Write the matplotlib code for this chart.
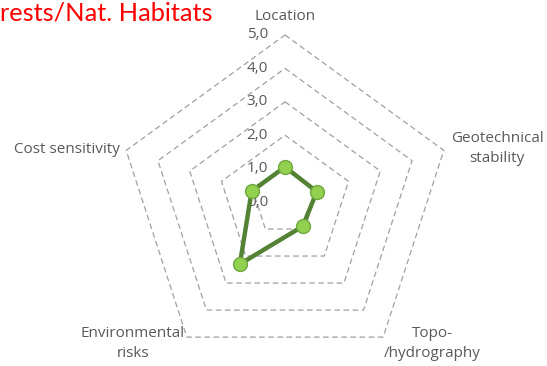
import numpy as np
import matplotlib
matplotlib.use("Agg")
import matplotlib.pyplot as plt

categories = ["Location", "Geotechnical\nstability", "Topo-\n/hydrography",
              "Environmental\nrisks", "Cost sensitivity"]
values = [1.05, 1.0, 0.9, 2.3, 1.05]
ring_levels = [1, 2, 3, 4, 5]
tick_values = [0, 1, 2, 3, 4, 5]
tick_labels = ["0,0", "1,0", "2,0", "3,0", "4,0", "5,0"]
title = "rests/Nat. Habitats"

plt.rcParams['font.family'] = ['Open Sans', 'DejaVu Sans']

W, H = 547, 366
fig = plt.figure(figsize=(W / 100, H / 100), dpi=100)
cx, cy, R = 285, 202, 167
ax = fig.add_axes([(cx - R) / W, (H - cy - R) / H, 2 * R / W, 2 * R / H],
                  projection='polar')
ax.set_theta_zero_location('N')
ax.set_theta_direction(-1)
ax.set_ylim(0, 5)
ax.grid(False)
ax.spines['polar'].set_visible(False)
ax.set_xticks([])
ax.set_yticks([])
ax.patch.set_alpha(0)

n = len(categories)
theta = np.linspace(0, 2 * np.pi, n, endpoint=False)
theta_c = np.append(theta, theta[0])

for r in ring_levels:
    ax.plot(theta_c, [r] * (n + 1), color='#A0A0A0', lw=0.9,
            linestyle=(0, (4.5, 2.8)), zorder=1, clip_on=False)

vals_c = values + values[:1]
ax.plot(theta_c, vals_c, color='#548235', lw=3.2, zorder=3,
        solid_joinstyle='round', clip_on=False)
ax.plot(theta, values, linestyle='none', marker='o', markersize=10,
        markerfacecolor='#92D050', markeredgecolor='#6FA83E',
        markeredgewidth=1.0, zorder=4, clip_on=False)

# radial tick labels
for v, lab in zip(tick_values, tick_labels):
    ax.annotate(lab, xy=(0, v), xytext=(-17, 0), textcoords='offset pixels',
                ha='right', va='center', fontsize=11, color='#595959',
                zorder=2, annotation_clip=False)

# category labels (offsets in pixels from outer vertex)
label_offsets = [(0, 19, 'center', 'center'),
                 (7, 2, 'left', 'center'),
                 (1, -6, 'left', 'center'),
                 (-2, -6, 'right', 'center'),
                 (-6, 1, 'right', 'center')]
for t, lab, (dx, dy, ha, va) in zip(theta, categories, label_offsets):
    ax.annotate(lab, xy=(t, 5), xytext=(dx, dy), textcoords='offset pixels',
                ha=ha, va=va, fontsize=11, color='#595959',
                multialignment='center', linespacing=1.45,
                annotation_clip=False)

fig.text(213 / W, 1 - 13 / H, title, ha='right', va='center',
         fontsize=18.3, color='#FF0000', family=['Lato', 'DejaVu Sans'])

fig.savefig("out.png", dpi=100)
